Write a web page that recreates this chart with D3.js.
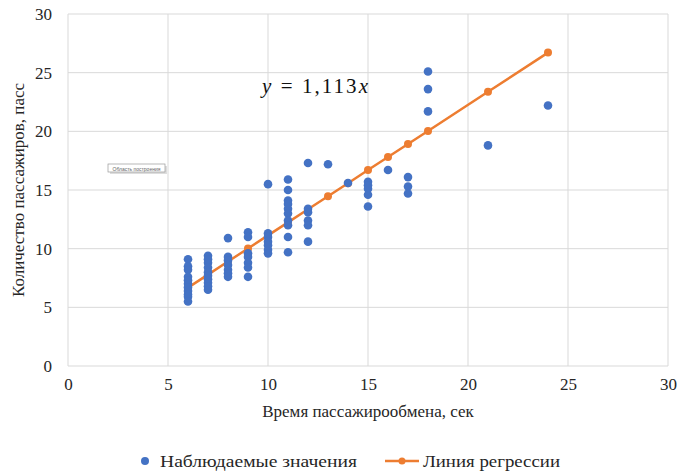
<!DOCTYPE html>
<html><head><meta charset="utf-8">
<script src="https://cdn.jsdelivr.net/npm/d3@7/dist/d3.min.js"></script>
<style>body{margin:0;background:#fff}svg{display:block}</style>
</head><body>
<svg id="c" width="691" height="474"></svg>
<script>
const xTicks = [0,5,10,15,20,25,30];
const yTicks = [0,5,10,15,20,25,30];
const obsX = [6,6,6,6,6,6,6,6,6,6,6, 7,7,7,7,7,7,7,7,7,7, 8,8,8,8,8,8,8, 9,9,9,9,9,9,9,
  10,10,10,10,10,10,10, 11,11,11,11,11,11,11,11,11,11, 12,12,12,12,12,12, 13, 14, 15,15,15,15,15, 16, 17,17,17, 18,18,18, 21, 24];
const obsY = [9.1,8.5,8.2,7.6,7.3,7.0,6.7,6.4,6.1,5.9,5.5, 9.4,9.1,8.8,8.4,8.0,7.7,7.4,7.1,6.8,6.5, 10.9,9.3,9.0,8.6,8.2,7.9,7.6, 11.4,11.0,9.6,9.3,8.8,8.4,7.6,
  15.5,11.3,11.0,10.6,10.3,9.9,9.6, 15.9,15.0,14.1,13.8,13.4,13.0,12.4,12.0,11.0,9.7, 17.3,13.4,13.1,12.4,12.0,10.6, 17.2, 15.6, 15.7,15.4,15.1,14.6,13.6, 16.7, 16.1,15.3,14.7, 25.1,23.6,21.7, 18.8, 22.2];
const regX = [6,7,8,9,10,11,12,13,14,15,16,17,18,21,24];
const regY = [6.68,7.79,8.90,10.02,11.13,12.24,13.36,14.47,15.58,16.70,17.81,18.92,20.03,23.37,26.71];
const seriesNames = ["Наблюдаемые значения","Линия регрессии"];
const xTitle = "Время пассажирообмена, сек";
const yTitle = "Количество пассажиров, пасс";

const svg = d3.select("#c");
const L=68, T=14, W=600, H=352;
const x = d3.scaleLinear().domain([0,30]).range([L,L+W]);
const y = d3.scaleLinear().domain([0,30]).range([T+H,T]);
const font = 'Liberation Serif';
const blue="#4472C4", orange="#ED7D31", grid="#d9d9d9", txt="#262626";
function serif(s, size){ return s.attr("font-family",font).attr("font-size",size).attr("fill",txt); }

// gridlines
svg.append("g").selectAll("line").data(yTicks).join("line")
  .attr("x1",L).attr("x2",L+W).attr("y1",d=>y(d)).attr("y2",d=>y(d))
  .attr("stroke",grid).attr("stroke-width",1);
svg.append("g").selectAll("line").data(xTicks).join("line")
  .attr("y1",T).attr("y2",T+H).attr("x1",d=>x(d)).attr("x2",d=>x(d))
  .attr("stroke",grid).attr("stroke-width",1);

// axes (labels only)
const xa = svg.append("g").attr("transform",`translate(0,${T+H})`)
  .call(d3.axisBottom(x).tickValues(xTicks).tickSize(0).tickPadding(12));
const ya = svg.append("g").attr("transform",`translate(${L},0)`)
  .call(d3.axisLeft(y).tickValues(yTicks).tickSize(0).tickPadding(16));
[xa,ya].forEach(a=>{a.select(".domain").remove();
  a.attr("font-family",font).attr("font-size",17);
  a.selectAll("text").attr("fill",txt);});

// regression line (drawn under observed points)
svg.append("path").datum(regX.map((d,i)=>[d,regY[i]]))
  .attr("d",d3.line().x(d=>x(d[0])).y(d=>y(d[1])))
  .attr("fill","none").attr("stroke",orange).attr("stroke-width",2.5);
svg.append("g").selectAll("circle").data(regX.map((d,i)=>[d,regY[i]])).join("circle")
  .attr("cx",d=>x(d[0])).attr("cy",d=>y(d[1])).attr("r",4).attr("fill",orange);

// observed
svg.append("g").selectAll("circle").data(obsX.map((d,i)=>[d,obsY[i]])).join("circle")
  .attr("cx",d=>x(d[0])).attr("cy",d=>y(d[1])).attr("r",4.3).attr("fill",blue);

// equation
const eq = serif(svg.append("text").attr("x",262).attr("y",93), 21).attr("fill","#111")
  .attr("textLength",106).attr("lengthAdjust","spacing");
eq.append("tspan").attr("font-style","italic").text("y");
eq.append("tspan").text(" = 1,113");
eq.append("tspan").attr("font-style","italic").text("x");

// tiny "plot area" tooltip
const tg = svg.append("g");
tg.append("rect").attr("x",110).attr("y",166).attr("width",57).attr("height",8).attr("fill","#bbb").attr("opacity",0.5);
tg.append("rect").attr("x",108).attr("y",164).attr("width",57).attr("height",8).attr("fill","#fff").attr("stroke","#999").attr("stroke-width",0.7);
tg.append("text").attr("x",136.5).attr("y",170.5).attr("text-anchor","middle")
  .attr("font-family","Liberation Sans").attr("font-size",5).attr("fill","#666").text("Область построения");

// axis titles
serif(svg.append("text").attr("x",x(15)).attr("y",417).attr("text-anchor","middle"),17).text(xTitle);
serif(svg.append("text").attr("transform",`translate(24,${y(15)}) rotate(-90)`).attr("text-anchor","middle"),17).text(yTitle);

// legend
const lg = svg.append("g");
lg.append("circle").attr("cx",145).attr("cy",461).attr("r",4).attr("fill",blue);
serif(lg.append("text").attr("x",160).attr("y",467),17).attr("textLength",197).attr("lengthAdjust","spacingAndGlyphs").text(seriesNames[0]);
lg.append("line").attr("x1",385).attr("x2",419).attr("y1",461).attr("y2",461).attr("stroke",orange).attr("stroke-width",2.5);
lg.append("circle").attr("cx",402).attr("cy",461).attr("r",3.5).attr("fill",orange);
serif(lg.append("text").attr("x",423).attr("y",467),17).attr("textLength",137).attr("lengthAdjust","spacingAndGlyphs").text(seriesNames[1]);
</script>
</body></html>
